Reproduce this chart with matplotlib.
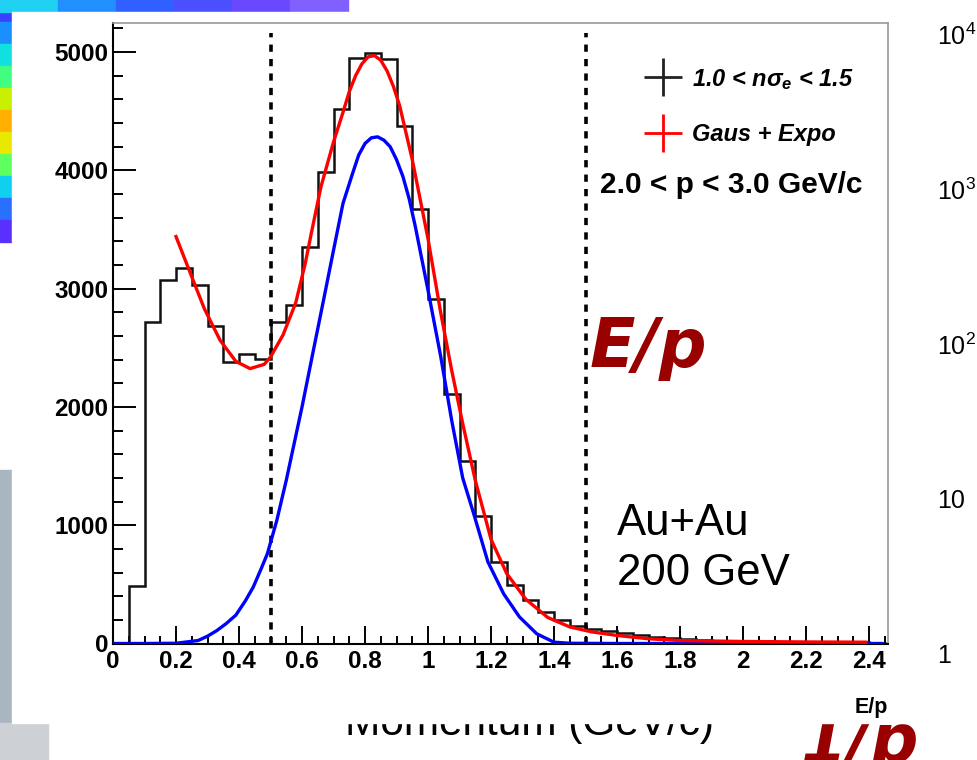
import numpy as np
import matplotlib
matplotlib.use('Agg')
import matplotlib.pyplot as plt
from matplotlib.patches import Rectangle
from matplotlib.lines import Line2D
from matplotlib.ticker import MultipleLocator, FuncFormatter

plt.rcParams['font.family'] = ['Liberation Sans', 'DejaVu Sans']
plt.rcParams['mathtext.fontset'] = 'custom'
plt.rcParams['mathtext.rm'] = 'Liberation Sans'
plt.rcParams['mathtext.it'] = 'Liberation Sans:italic:bold'
plt.rcParams['mathtext.bf'] = 'Liberation Sans:bold'

# E/p histogram, bins of 0.05 starting at 0
bin_width = 0.05
counts = [0, 482, 2718, 3077, 3175, 3034, 2682, 2380, 2451, 2403,
          2718, 2865, 3353, 3982, 4518, 4950, 4990, 4945, 4372, 3675,
          2916, 2107, 1540, 1074, 688, 491, 364, 265, 195, 144,
          124, 108, 85, 70, 55, 45, 35, 30, 25, 22,
          20, 18, 15, 14, 12, 12, 10, 9, 8]

# Gaus + Expo fit (red)
fit_x = [0.20, 0.25, 0.29, 0.34, 0.39, 0.435, 0.48, 0.50, 0.54, 0.58,
         0.61, 0.63, 0.66, 0.70, 0.73, 0.75, 0.77, 0.79, 0.81, 0.83,
         0.85, 0.87, 0.89, 0.91, 0.95, 1.00, 1.04, 1.075, 1.11, 1.15,
         1.20, 1.25, 1.31, 1.38, 1.45, 1.52, 1.60, 1.70, 1.80, 2.00,
         2.20, 2.39]
fit_y = [3440, 3100, 2830, 2563, 2385, 2324, 2360, 2422, 2610, 2880,
         3210, 3475, 3860, 4240, 4490, 4665, 4800, 4900, 4960, 4970,
         4930, 4840, 4710, 4545, 4090, 3420, 2800, 2310, 1860, 1379,
         880, 590, 375, 220, 140, 98, 68, 40, 25, 17,
         13, 11]

# Gaussian part of the fit (blue)
gaus_x = [0.00, 0.10, 0.20, 0.27, 0.30, 0.33, 0.36, 0.39, 0.42, 0.445,
          0.47, 0.49, 0.52, 0.55, 0.60, 0.64, 0.67, 0.70, 0.73, 0.76,
          0.78, 0.80, 0.82, 0.84, 0.86, 0.88, 0.90, 0.92, 0.94, 0.96,
          1.00, 1.04, 1.075, 1.11, 1.145, 1.19, 1.24, 1.29, 1.345, 1.40,
          1.45, 1.60, 2.00, 2.44]
gaus_y = [0, 0, 2, 25, 62, 110, 170, 240, 360, 476,
          630, 759, 1041, 1380, 2000, 2530, 2925, 3325, 3720, 3970,
          4130, 4227, 4275, 4283, 4255, 4199, 4090, 3950, 3760, 3520,
          2985, 2430, 1887, 1400, 1097, 690, 420, 225, 82, 11,
          2, 0, 0, 0]

cut_lines = [0.5, 1.5]
cut_top = 5160

legend_labels = [r'1.0 < n$\sigma_e$ < 1.5', 'Gaus + Expo']
legend_colors = ['#222222', '#ff0000']
momentum_text = '2.0 < p < 3.0 GeV/c'
system_text = ['Au+Au', '200 GeV']

W, H = 978, 760
fig = plt.figure(figsize=(W / 100, H / 100), dpi=100)


def fx(px):
    return px / W


def fy(py):
    return 1 - py / H


# bits of the slide behind the ROOT pad
bg = dict(zorder=-5)
strip_cols = ['#3a40ff', '#1a90ff', '#10e0e0', '#40ff80', '#c8f000',
              '#ffb000', '#e8e800', '#60ff60', '#10d0f0', '#2a70ff', '#5a30ff']
for i, c in enumerate(strip_cols):
    fig.patches.append(Rectangle((0, fy(22 * (i + 1))), fx(12), 22 / H,
                                 transform=fig.transFigure, color=c, **bg))
top_cols = ['#20d0f0', '#2090ff', '#3060ff', '#4a50ff', '#6a48ff', '#8060ff']
for i, c in enumerate(top_cols):
    fig.patches.append(Rectangle((fx(58 * i), fy(12)), fx(58), 12 / H,
                                 transform=fig.transFigure, color=c, **bg))
fig.patches.append(Rectangle((0, fy(723)), fx(12), 253 / H,
                             transform=fig.transFigure, color='#a9b5c0', **bg))
fig.patches.append(Rectangle((0, 0), fx(48), 37 / H,
                             transform=fig.transFigure, color='#cdd1d5', **bg))
for lab, py in [('$10^4$', 45), ('$10^3$', 200), ('$10^2$', 355),
                ('10', 508), ('1', 663)]:
    fig.text(fx(937), fy(py), lab, fontsize=18, va='baseline', ha='left', **bg)
fig.text(fx(345), fy(735), 'Momentum (GeV/c)', fontsize=30.5,
         va='baseline', ha='left', **bg)
fig.text(fx(800), fy(762), '1/p', fontsize=48, color='#990000',
         family='DejaVu Sans', weight='bold', style='oblique',
         va='baseline', ha='left', **bg)

# white ROOT pad
fig.patches.append(Rectangle((fx(12), fy(723)), fx(918), 711 / H,
                             transform=fig.transFigure, color='white', zorder=-4))

ax = fig.add_axes([fx(113), fy(643.5), fx(775), 620.2 / H])
ax.set_facecolor('none')

edges = np.arange(len(counts) + 1) * bin_width
ax.stairs(counts, edges, color='#111111', lw=1.8, baseline=0, zorder=2)
ax.vlines(cut_lines, 0, cut_top, colors='black', linestyles=(0, (2, 2)),
          lw=2.6, zorder=3)
ax.plot(gaus_x, gaus_y, color='#0000ff', lw=2.4, zorder=4)
ax.plot(fit_x, fit_y, color='#ff0000', lw=2.4, zorder=5)

ax.set_xlim(0, 2.46)
ax.set_ylim(0, 5243)

ax.xaxis.set_major_locator(MultipleLocator(0.2))
ax.xaxis.set_minor_locator(MultipleLocator(0.05))
ax.yaxis.set_major_locator(MultipleLocator(1000))
ax.yaxis.set_minor_locator(MultipleLocator(200))
ax.xaxis.set_major_formatter(FuncFormatter(lambda v, p: '%g' % round(v, 2)))
ax.yaxis.set_major_formatter(FuncFormatter(lambda v, p: '%d' % v))

ax.tick_params(axis='both', which='both', direction='in', top=False,
               right=False, width=1.4, labelsize=17.5, colors='black')
ax.tick_params(axis='y', which='major', length=16.5, pad=3.5)
ax.tick_params(axis='y', which='minor', length=7)
ax.tick_params(axis='x', which='major', length=13, pad=5)
ax.tick_params(axis='x', which='minor', length=6)
for lab in ax.get_xticklabels() + ax.get_yticklabels():
    lab.set_fontweight('bold')

for s in ['left', 'bottom']:
    ax.spines[s].set_linewidth(1.5)
    ax.spines[s].set_color('black')
for s in ['top', 'right']:
    ax.spines[s].set_linewidth(1.2)
    ax.spines[s].set_color('#999999')

ax.set_xlabel('E/p', loc='right', fontsize=15.5, fontweight='bold', labelpad=17)

handles = [Line2D([], [], color=c, marker='+', ms=28, mew=2.0, ls='none')
           for c in legend_colors]
leg = ax.legend(handles, legend_labels, loc='upper left',
                bbox_to_anchor=(0.685, 0.930), frameon=False,
                prop=dict(size=17, weight='bold', style='italic'),
                handlelength=1.6, handletextpad=0.45, labelspacing=1.35,
                borderpad=0, borderaxespad=0)

ax.text(0.628, 0.726, momentum_text, transform=ax.transAxes, fontsize=21.5,
        fontweight='bold', va='baseline', ha='left')
ax.text(0.6155, 0.4458, 'E/p', transform=ax.transAxes, fontsize=48,
        color='#990000', family='DejaVu Sans', weight='bold',
        style='oblique', va='baseline', ha='left')
ax.text(0.650, 0.175, system_text[0], transform=ax.transAxes, fontsize=31.5,
        va='baseline', ha='left')
ax.text(0.650, 0.0943, system_text[1], transform=ax.transAxes, fontsize=31.5,
        va='baseline', ha='left')

fig.savefig('out.png', dpi=100)
